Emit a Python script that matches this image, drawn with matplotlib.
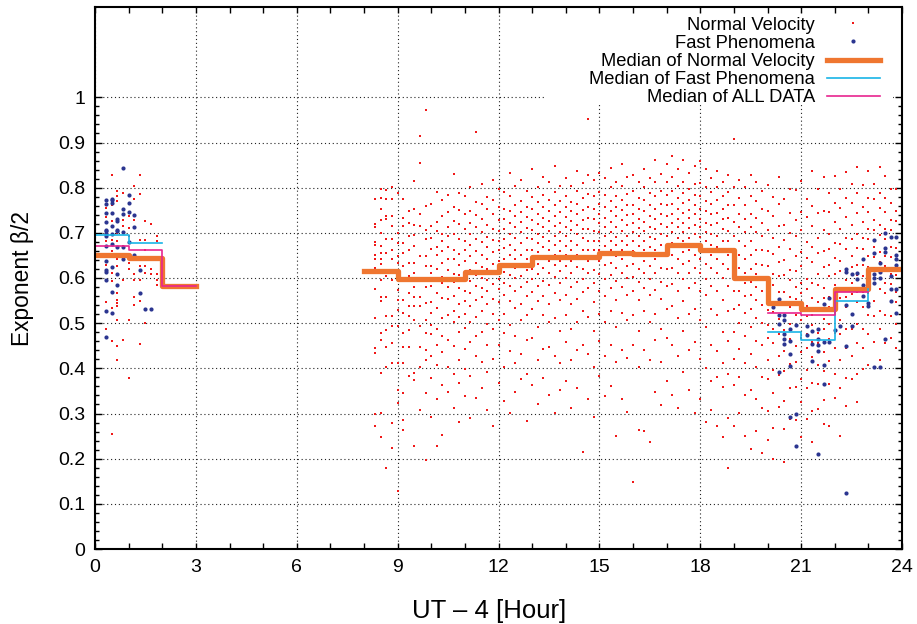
import matplotlib
matplotlib.use("Agg")
import matplotlib.pyplot as plt
from matplotlib.patches import Rectangle
from matplotlib.ticker import FixedLocator, MultipleLocator

plt.rcParams['font.family'] = ['Liberation Sans', 'DejaVu Sans']

# beta/2 values of each 10-minute bin (bins start at h:00, h:10, ... h:50)
# normal velocity events
nv_00 = [[], [],
         [0.755, 0.741, 0.735, 0.681, 0.648, 0.628, 0.617, 0.546, 0.486],
         [0.827, 0.761, 0.726, 0.716, 0.685, 0.659, 0.611, 0.593, 0.534, 0.460, 0.254],
         [0.792, 0.781, 0.770, 0.700, 0.681, 0.641, 0.626, 0.567, 0.552, 0.545, 0.537, 0.508, 0.449, 0.418],
         [0.789, 0.729, 0.715, 0.670, 0.596, 0.463]]
nv_01 = [[0.737, 0.711, 0.692, 0.633, 0.619, 0.508, 0.378],
         [0.803, 0.774, 0.729, 0.648, 0.608, 0.596, 0.559, 0.541],
         [0.827, 0.785, 0.685, 0.641, 0.626, 0.596, 0.548, 0.454],
         [0.726, 0.685, 0.663, 0.626, 0.611, 0.500],
         [0.720, 0.619, 0.608],
         [0.692, 0.681, 0.608, 0.596, 0.585]]
nv_08 = [[], [],
         [0.774, 0.720, 0.713, 0.680, 0.672, 0.650, 0.641, 0.623, 0.611, 0.576, 0.512, 0.445, 0.434, 0.300, 0.273],
         [0.798, 0.778, 0.752, 0.728, 0.700, 0.671, 0.656, 0.641, 0.630, 0.611, 0.596, 0.559, 0.548, 0.478, 0.463, 0.390, 0.301, 0.249],
         [0.795, 0.776, 0.737, 0.730, 0.686, 0.656, 0.618, 0.604, 0.559, 0.515, 0.485, 0.448, 0.404, 0.180],
         [0.802, 0.774, 0.737, 0.715, 0.686, 0.663, 0.641, 0.618, 0.596, 0.515, 0.493, 0.456, 0.412, 0.279, 0.223]]
nv_09 = [[0.789, 0.700, 0.678, 0.648, 0.633, 0.604, 0.574, 0.552, 0.530, 0.493, 0.412, 0.353, 0.323, 0.129],
         [0.774, 0.733, 0.715, 0.678, 0.656, 0.626, 0.596, 0.552, 0.522, 0.478, 0.448, 0.412, 0.345, 0.286, 0.264],
         [0.748, 0.722, 0.693, 0.663, 0.633, 0.604, 0.567, 0.537, 0.515, 0.485, 0.448, 0.382],
         [0.815, 0.752, 0.718, 0.696, 0.671, 0.633, 0.611, 0.581, 0.559, 0.537, 0.508, 0.389, 0.374, 0.227],
         [0.914, 0.855, 0.741, 0.715, 0.648, 0.596, 0.559, 0.537, 0.493, 0.448, 0.404, 0.308],
         [0.973, 0.759, 0.707, 0.686, 0.648, 0.626, 0.581, 0.545, 0.508, 0.478, 0.441, 0.419, 0.345, 0.197]]
nv_10 = [[0.763, 0.716, 0.688, 0.664, 0.627, 0.612, 0.583, 0.547, 0.523, 0.497, 0.476, 0.428, 0.379, 0.293],
         [0.791, 0.724, 0.703, 0.668, 0.651, 0.619, 0.597, 0.566, 0.534, 0.487, 0.452, 0.407, 0.331, 0.229],
         [0.772, 0.738, 0.697, 0.683, 0.659, 0.634, 0.602, 0.588, 0.556, 0.511, 0.472, 0.437, 0.362, 0.252],
         [0.784, 0.747, 0.712, 0.692, 0.668, 0.641, 0.617, 0.579, 0.553, 0.518, 0.463, 0.402, 0.348],
         [0.831, 0.758, 0.727, 0.698, 0.662, 0.643, 0.609, 0.591, 0.561, 0.528, 0.503, 0.449, 0.387, 0.312],
         [0.789, 0.751, 0.719, 0.687, 0.654, 0.628, 0.606, 0.577, 0.542, 0.513, 0.481, 0.418, 0.367, 0.281]]
nv_11 = [[0.782, 0.741, 0.708, 0.683, 0.661, 0.637, 0.603, 0.571, 0.548, 0.521, 0.489, 0.443, 0.398, 0.338],
         [0.801, 0.748, 0.722, 0.697, 0.672, 0.648, 0.618, 0.593, 0.567, 0.538, 0.502, 0.458, 0.383, 0.291],
         [0.923, 0.768, 0.739, 0.713, 0.686, 0.659, 0.633, 0.607, 0.582, 0.551, 0.514, 0.472, 0.427, 0.334],
         [0.808, 0.763, 0.731, 0.702, 0.679, 0.652, 0.624, 0.601, 0.578, 0.557, 0.526, 0.481, 0.413, 0.357],
         [0.779, 0.752, 0.718, 0.691, 0.668, 0.643, 0.619, 0.596, 0.572, 0.543, 0.498, 0.452, 0.391, 0.308],
         [0.817, 0.772, 0.742, 0.709, 0.684, 0.657, 0.631, 0.612, 0.587, 0.553, 0.521, 0.487, 0.421, 0.272]]
nv_12 = [[0.798, 0.757, 0.728, 0.703, 0.681, 0.662, 0.638, 0.617, 0.598, 0.576, 0.547, 0.508, 0.451, 0.368],
         [0.791, 0.753, 0.731, 0.708, 0.687, 0.667, 0.642, 0.613, 0.588, 0.562, 0.521, 0.478, 0.402, 0.327],
         [0.832, 0.781, 0.748, 0.722, 0.697, 0.672, 0.651, 0.628, 0.607, 0.583, 0.548, 0.497, 0.438, 0.302],
         [0.803, 0.762, 0.738, 0.712, 0.689, 0.663, 0.641, 0.622, 0.601, 0.571, 0.533, 0.472, 0.412, 0.348],
         [0.818, 0.771, 0.747, 0.723, 0.702, 0.678, 0.652, 0.631, 0.604, 0.579, 0.542, 0.507, 0.432, 0.377],
         [0.793, 0.758, 0.734, 0.711, 0.688, 0.661, 0.643, 0.618, 0.592, 0.561, 0.518, 0.463, 0.388, 0.283]]
nv_13 = [[0.841, 0.779, 0.752, 0.728, 0.707, 0.687, 0.662, 0.643, 0.621, 0.598, 0.568, 0.531, 0.468, 0.362],
         [0.802, 0.768, 0.741, 0.719, 0.698, 0.678, 0.657, 0.632, 0.609, 0.583, 0.548, 0.492, 0.418, 0.321],
         [0.823, 0.783, 0.757, 0.733, 0.712, 0.691, 0.668, 0.647, 0.622, 0.593, 0.561, 0.518, 0.443, 0.378],
         [0.812, 0.773, 0.748, 0.726, 0.703, 0.683, 0.661, 0.638, 0.612, 0.584, 0.543, 0.502, 0.447, 0.341],
         [0.848, 0.791, 0.762, 0.738, 0.716, 0.693, 0.672, 0.651, 0.628, 0.602, 0.567, 0.512, 0.428, 0.301],
         [0.804, 0.771, 0.747, 0.722, 0.701, 0.681, 0.659, 0.637, 0.616, 0.588, 0.551, 0.483, 0.412, 0.352]]
nv_14 = [[0.821, 0.782, 0.757, 0.736, 0.713, 0.692, 0.671, 0.652, 0.627, 0.601, 0.562, 0.518, 0.458, 0.371],
         [0.803, 0.768, 0.748, 0.727, 0.706, 0.683, 0.662, 0.638, 0.612, 0.581, 0.542, 0.488, 0.418, 0.312],
         [0.838, 0.792, 0.763, 0.741, 0.718, 0.697, 0.673, 0.651, 0.624, 0.592, 0.553, 0.503, 0.441, 0.357],
         [0.811, 0.778, 0.751, 0.729, 0.708, 0.688, 0.663, 0.642, 0.619, 0.597, 0.568, 0.527, 0.452, 0.214],
         [0.951, 0.828, 0.787, 0.758, 0.732, 0.709, 0.683, 0.661, 0.638, 0.612, 0.578, 0.513, 0.432, 0.331],
         [0.817, 0.781, 0.753, 0.731, 0.703, 0.682, 0.661, 0.641, 0.618, 0.588, 0.547, 0.482, 0.403, 0.292]]
nv_15 = [[0.832, 0.791, 0.763, 0.742, 0.721, 0.701, 0.681, 0.662, 0.638, 0.608, 0.571, 0.521, 0.461, 0.382],
         [0.822, 0.783, 0.758, 0.733, 0.712, 0.692, 0.671, 0.652, 0.628, 0.598, 0.561, 0.503, 0.428, 0.338],
         [0.843, 0.802, 0.771, 0.748, 0.724, 0.702, 0.683, 0.661, 0.634, 0.607, 0.578, 0.528, 0.452, 0.361],
         [0.812, 0.781, 0.758, 0.737, 0.713, 0.691, 0.672, 0.648, 0.622, 0.593, 0.552, 0.491, 0.413, 0.250],
         [0.852, 0.803, 0.772, 0.751, 0.728, 0.703, 0.682, 0.663, 0.641, 0.612, 0.581, 0.522, 0.441, 0.332],
         [0.823, 0.787, 0.761, 0.739, 0.717, 0.693, 0.672, 0.651, 0.627, 0.601, 0.563, 0.508, 0.422, 0.303]]
nv_16 = [[0.828, 0.792, 0.761, 0.741, 0.722, 0.702, 0.681, 0.659, 0.632, 0.603, 0.571, 0.518, 0.452, 0.149],
         [0.813, 0.778, 0.753, 0.731, 0.711, 0.692, 0.671, 0.648, 0.621, 0.592, 0.551, 0.483, 0.402, 0.264],
         [0.842, 0.801, 0.772, 0.748, 0.723, 0.703, 0.682, 0.661, 0.638, 0.611, 0.578, 0.527, 0.441, 0.262],
         [0.821, 0.788, 0.762, 0.738, 0.712, 0.691, 0.669, 0.648, 0.627, 0.598, 0.562, 0.502, 0.418, 0.238],
         [0.862, 0.812, 0.781, 0.753, 0.731, 0.709, 0.687, 0.663, 0.641, 0.612, 0.573, 0.521, 0.462, 0.348],
         [0.831, 0.792, 0.763, 0.741, 0.719, 0.698, 0.673, 0.651, 0.623, 0.592, 0.553, 0.487, 0.413, 0.318]]
nv_17 = [[0.853, 0.812, 0.783, 0.761, 0.738, 0.713, 0.692, 0.671, 0.648, 0.621, 0.582, 0.531, 0.468, 0.372],
         [0.871, 0.823, 0.792, 0.763, 0.741, 0.721, 0.701, 0.678, 0.652, 0.623, 0.587, 0.538, 0.452, 0.341],
         [0.842, 0.803, 0.778, 0.752, 0.731, 0.712, 0.689, 0.668, 0.643, 0.612, 0.572, 0.512, 0.428, 0.312],
         [0.861, 0.813, 0.788, 0.767, 0.743, 0.722, 0.702, 0.681, 0.658, 0.631, 0.598, 0.548, 0.482, 0.391],
         [0.832, 0.798, 0.772, 0.751, 0.732, 0.711, 0.688, 0.662, 0.638, 0.611, 0.578, 0.521, 0.441, 0.352],
         [0.848, 0.808, 0.783, 0.762, 0.741, 0.718, 0.697, 0.673, 0.651, 0.622, 0.588, 0.532, 0.458, 0.302]]
nv_18 = [[0.858, 0.811, 0.782, 0.753, 0.731, 0.712, 0.691, 0.668, 0.641, 0.612, 0.572, 0.508, 0.421, 0.331],
         [0.842, 0.802, 0.771, 0.748, 0.722, 0.702, 0.681, 0.658, 0.631, 0.598, 0.562, 0.492, 0.401, 0.281],
         [0.822, 0.791, 0.763, 0.741, 0.718, 0.697, 0.672, 0.651, 0.622, 0.583, 0.531, 0.452, 0.372, 0.308],
         [0.838, 0.801, 0.772, 0.743, 0.721, 0.692, 0.668, 0.642, 0.612, 0.572, 0.518, 0.438, 0.381, 0.272],
         [0.812, 0.781, 0.752, 0.731, 0.708, 0.683, 0.661, 0.632, 0.601, 0.552, 0.481, 0.412, 0.358, 0.248],
         [0.828, 0.791, 0.761, 0.732, 0.703, 0.681, 0.652, 0.621, 0.583, 0.528, 0.461, 0.388, 0.291, 0.180]]
nv_19 = [[0.907, 0.801, 0.762, 0.723, 0.692, 0.661, 0.632, 0.603, 0.571, 0.532, 0.481, 0.421, 0.362, 0.272],
         [0.818, 0.778, 0.742, 0.712, 0.683, 0.652, 0.623, 0.598, 0.572, 0.541, 0.501, 0.442, 0.381, 0.302],
         [0.801, 0.762, 0.731, 0.702, 0.671, 0.641, 0.612, 0.588, 0.561, 0.522, 0.472, 0.412, 0.342, 0.251],
         [0.828, 0.781, 0.742, 0.713, 0.682, 0.651, 0.621, 0.592, 0.563, 0.531, 0.492, 0.432, 0.352, 0.222],
         [0.812, 0.771, 0.732, 0.701, 0.663, 0.632, 0.608, 0.581, 0.552, 0.512, 0.461, 0.402, 0.331, 0.262],
         [0.792, 0.752, 0.721, 0.692, 0.661, 0.628, 0.601, 0.572, 0.541, 0.501, 0.452, 0.381, 0.312, 0.212]]
nv_20 = [[0.806, 0.748, 0.707, 0.659, 0.626, 0.588, 0.566, 0.529, 0.497, 0.468, 0.418, 0.376, 0.305, 0.241],
         [0.779, 0.737, 0.688, 0.654, 0.609, 0.584, 0.547, 0.524, 0.488, 0.455, 0.397, 0.346, 0.268, 0.200],
         [0.823, 0.764, 0.716, 0.668, 0.636, 0.604, 0.568, 0.545, 0.509, 0.476, 0.428, 0.385, 0.315],
         [0.775, 0.718, 0.685, 0.639, 0.607, 0.569, 0.543, 0.508, 0.484, 0.438, 0.395, 0.328, 0.265, 0.193],
         [0.797, 0.745, 0.699, 0.664, 0.618, 0.596, 0.558, 0.535, 0.498, 0.465, 0.409, 0.356, 0.288],
         [0.794, 0.729, 0.694, 0.648, 0.615, 0.579, 0.554, 0.518, 0.494, 0.449, 0.415, 0.359, 0.285, 0.226]]
nv_21 = [[0.815, 0.747, 0.706, 0.657, 0.627, 0.588, 0.566, 0.527, 0.506, 0.467, 0.436, 0.377, 0.326, 0.247],
         [0.776, 0.736, 0.679, 0.645, 0.598, 0.575, 0.538, 0.516, 0.477, 0.446, 0.397, 0.356, 0.288],
         [0.836, 0.759, 0.716, 0.668, 0.635, 0.589, 0.556, 0.518, 0.495, 0.458, 0.426, 0.368, 0.306, 0.238],
         [0.798, 0.745, 0.689, 0.655, 0.608, 0.585, 0.547, 0.526, 0.479, 0.455, 0.408, 0.365, 0.309],
         [0.824, 0.748, 0.707, 0.659, 0.624, 0.578, 0.556, 0.509, 0.486, 0.437, 0.395, 0.329, 0.276],
         [0.788, 0.746, 0.697, 0.664, 0.628, 0.605, 0.558, 0.536, 0.498, 0.466, 0.417, 0.365, 0.273]]
nv_22 = [[0.826, 0.767, 0.724, 0.678, 0.645, 0.608, 0.585, 0.548, 0.525, 0.478, 0.445, 0.388, 0.334],
         [0.797, 0.756, 0.708, 0.676, 0.637, 0.616, 0.578, 0.555, 0.508, 0.476, 0.418, 0.356, 0.250],
         [0.835, 0.777, 0.736, 0.688, 0.665, 0.617, 0.596, 0.558, 0.536, 0.488, 0.445, 0.378, 0.316],
         [0.808, 0.766, 0.718, 0.686, 0.648, 0.625, 0.588, 0.565, 0.518, 0.486, 0.428, 0.376],
         [0.846, 0.788, 0.745, 0.698, 0.666, 0.628, 0.606, 0.568, 0.546, 0.498, 0.456, 0.388, 0.325],
         [0.805, 0.758, 0.725, 0.688, 0.665, 0.628, 0.605, 0.568, 0.536, 0.488, 0.446, 0.398]]
nv_23 = [[0.836, 0.778, 0.746, 0.708, 0.686, 0.648, 0.625, 0.588, 0.566, 0.518, 0.476, 0.408],
         [0.808, 0.776, 0.728, 0.706, 0.668, 0.646, 0.608, 0.586, 0.548, 0.516, 0.458],
         [0.846, 0.788, 0.756, 0.718, 0.696, 0.658, 0.636, 0.598, 0.576, 0.528, 0.486, 0.418],
         [0.826, 0.778, 0.746, 0.708, 0.686, 0.648, 0.626, 0.588, 0.566, 0.518, 0.456],
         [0.798, 0.766, 0.728, 0.706, 0.668, 0.646, 0.608, 0.586, 0.548, 0.516, 0.468],
         [0.796, 0.748, 0.726, 0.688, 0.666, 0.628, 0.606, 0.568, 0.546, 0.498, 0.446]]
nv_hours = [0, 1, 8, 9, 10, 11, 12, 13, 14, 15, 16, 17, 18, 19, 20, 21, 22, 23]
nv_bins = [nv_00, nv_01, nv_08, nv_09, nv_10, nv_11, nv_12, nv_13, nv_14,
           nv_15, nv_16, nv_17, nv_18, nv_19, nv_20, nv_21, nv_22, nv_23]

# fast phenomena events
fp_00 = [[], [],
         [0.772, 0.763, 0.743, 0.723, 0.706, 0.703, 0.698, 0.692, 0.670, 0.637, 0.617, 0.613, 0.596, 0.528, 0.469],
         [0.775, 0.772, 0.767, 0.744, 0.716, 0.698, 0.676, 0.624, 0.568, 0.522],
         [0.731, 0.726, 0.707, 0.704, 0.669, 0.609, 0.585],
         [0.844, 0.752, 0.742, 0.702, 0.669, 0.643]]
fp_01 = [[0.783, 0.767, 0.747, 0.679], [0.740, 0.712, 0.650], [0.617, 0.567], [0.531], [0.531], []]
fp_20 = [[], [0.535], [0.554, 0.519, 0.499, 0.392], [0.517, 0.508, 0.477, 0.464, 0.453],
         [0.487, 0.460, 0.432, 0.406, 0.292], [0.495, 0.298, 0.227]]
fp_21 = [[], [0.493, 0.474], [0.482, 0.453, 0.417], [0.486, 0.465, 0.451, 0.439, 0.211],
         [0.542, 0.458, 0.407, 0.365], [0.556, 0.458]]
fp_22 = [[0.484], [0.494], [0.619, 0.613, 0.540, 0.450, 0.124], [0.609, 0.520, 0.493],
         [0.610, 0.598], [0.643, 0.585, 0.560]]
fp_23 = [[0.545, 0.537], [0.685, 0.656, 0.609, 0.600, 0.588, 0.404], [0.633, 0.613, 0.600, 0.404],
         [0.700, 0.667, 0.657, 0.465], [0.691, 0.604, 0.576, 0.548], [0.691, 0.650, 0.641, 0.628, 0.576, 0.522]]
fp_hours = [0, 1, 20, 21, 22, 23]
fp_bins = [fp_00, fp_01, fp_20, fp_21, fp_22, fp_23]

# hourly medians, drawn as steps (two runs each)
med_nv_x1 = [0, 1, 2, 3]
med_nv_y1 = [0.651, 0.645, 0.582, 0.582]
med_nv_x2 = [8, 9, 10, 11, 12, 13, 14, 15, 16, 17, 18, 19, 20, 21, 22, 23, 24]
med_nv_y2 = [0.615, 0.598, 0.598, 0.614, 0.628, 0.647, 0.647, 0.655, 0.654,
             0.672, 0.662, 0.599, 0.545, 0.531, 0.575, 0.621, 0.621]
med_fp_x1 = [0, 1, 2]
med_fp_y1 = [0.696, 0.677, 0.677]
med_fp_x2 = [20, 21, 22, 23]
med_fp_y2 = [0.480, 0.463, 0.550, 0.575]
med_all_x1 = [0, 1, 2, 3]
med_all_y1 = [0.670, 0.661, 0.583, 0.583]
med_all_x2 = [20, 21, 22, 23]
med_all_y2 = [0.523, 0.517, 0.569, 0.569]


def flatten(hours, bins):
    xs, ys = [], []
    for h, cols in zip(hours, bins):
        for k, col in enumerate(cols):
            xs += [h + k / 6.0] * len(col)
            ys += col
    return xs, ys


fig = plt.figure(figsize=(9.17, 6.24), dpi=100)
ax = fig.add_axes([95 / 917, 75 / 624, 807 / 917, 542 / 624])

nx, ny = flatten(nv_hours, nv_bins)
fx, fy = flatten(fp_hours, fp_bins)
h_nv, = ax.plot(nx, ny, 's', color='#f01818', ms=1.8, mew=0, label='Normal Velocity')
h_fp, = ax.plot(fx, fy, 'o', color='#2b3590', ms=3.0, mew=0, label='Fast Phenomena')

orange = '#ef7630'
cyan = '#19b4e6'
magenta = '#e8258f'
h_mn, = ax.step(med_nv_x1, med_nv_y1, where='post', color=orange, lw=3.8, label='Median of Normal Velocity')
ax.step(med_nv_x2, med_nv_y2, where='post', color=orange, lw=3.8)
h_mf, = ax.step(med_fp_x1, med_fp_y1, where='post', color=cyan, lw=1.2, label='Median of Fast Phenomena')
ax.step(med_fp_x2, med_fp_y2, where='post', color=cyan, lw=1.2)
h_ma, = ax.step(med_all_x1, med_all_y1, where='post', color=magenta, lw=1.2, label='Median of ALL DATA')
ax.step(med_all_x2, med_all_y2, where='post', color=magenta, lw=1.2)

ax.set_xlim(0, 24)
ax.set_ylim(0, 1.2)
ax.xaxis.set_major_locator(MultipleLocator(3))
ax.xaxis.set_minor_locator(MultipleLocator(1))
ax.yaxis.set_major_locator(FixedLocator([i / 10 for i in range(11)]))
ax.yaxis.set_minor_locator(FixedLocator([i / 50 for i in range(51)]))
ax.yaxis.set_major_formatter(plt.FuncFormatter(lambda v, p: '%g' % round(v, 1)))
ax.tick_params(which='both', direction='in', top=True, right=True, width=1.0, labelsize=14, pad=7)
ax.tick_params(axis='x', which='both', length=4.5)
ax.tick_params(axis='y', which='major', length=5)
ax.tick_params(axis='y', which='minor', length=3)
ax.grid(True, which='major', color='#222222', linestyle=(0, (1, 2.5)), linewidth=0.8)
for s in ax.spines.values():
    s.set_linewidth(1.5)

# blank area behind the key
ax.add_patch(Rectangle((0.5576, 0.821), 0.431, 0.166, transform=ax.transAxes,
                       facecolor='white', edgecolor='none', zorder=1.8))

ax.set_xlabel('UT \u2013 4 [Hour]', fontsize=18.5)
ax.xaxis.set_label_coords(0.489, -0.092)
ax.set_ylabel('Exponent \u03b2/2', fontsize=16.4)
ax.yaxis.set_label_coords(-0.076, 0.5)

ax.legend(handles=[h_nv, h_fp, h_mn, h_mf, h_ma], loc='upper right',
          bbox_to_anchor=(0.9727, 0.982), frameon=False, markerfirst=False,
          fontsize=13.2, handlelength=2.9, handletextpad=0.65, labelspacing=0.06,
          borderpad=0, borderaxespad=0, numpoints=1)

fig.savefig('out.png', dpi=100)
